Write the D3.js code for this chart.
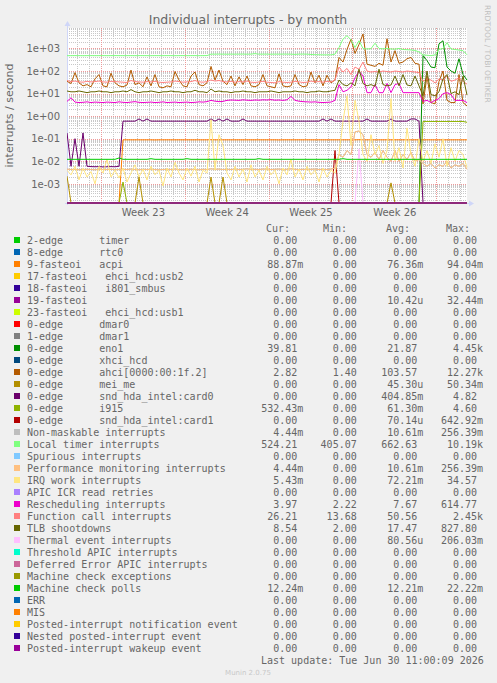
<!DOCTYPE html>
<html>
<head>
<meta charset="utf-8">
<script src="https://cdn.jsdelivr.net/npm/d3@7"></script>
<style>
  body { margin: 0; background: #f0f0f0; }
  svg { display: block; }
  text { font-family: "DejaVu Sans", sans-serif; fill: #666; }
  .mono { font-family: "DejaVu Sans Mono", monospace; font-size: 10px; white-space: pre; }
</style>
</head>
<body>
<div class="chart"></div>
<script>
// ======= MUNIN "Individual interrupts - by month" REDRAWN WITH D3 =======
// one sample every ~8h over the month window, values in interrupts / second

const weekLabels = ['Week 23', 'Week 24', 'Week 25', 'Week 26']
const yTickValues = [1e-3, 1e-2, 1e-1, 1, 10, 100, 1000]
const yTickLabels = ['1e-03', '1e-02', '1e-01', '1e+00', '1e+01', '1e+02', '1e+03']

const localTimer = [
  480, 478, 482, 480, 476, 480, 481, 479, 480, 482,
  478, 480, 483, 480, 479, 481, 480, 478, 482, 480,
  480, 477, 481, 480, 479, 482, 480, 478, 480, 481,
  479, 480, 482, 478, 480, 484, 560, 558, 562, 560,
  555, 561, 559, 560, 563, 557, 560, 590, 558, 560,
  561, 556, 560, 559, 562, 560, 558, 545, 560, 562,
  559, 540, 530, 525, 522, 520, 520, 560, 1100, 2600,
  3700, 2400, 1100, 2200, 1000, 950, 980, 1700, 1000, 960,
  1000, 950, 930, 1000, 900, 880, 860, 820, 700, 520,
  500, 480, 520, 900, 1000, 1800, 950, 900, 850, 800,
  524
]

const ahci = [
  35, 28, 85, 30, 22, 25, 20, 45, 70, 22,
  20, 80, 30, 22, 20, 24, 110, 25, 30, 20,
  55, 22, 70, 20, 18, 22, 20, 95, 40, 22,
  20, 60, 90, 25, 22, 30, 160, 40, 110, 35,
  25, 60, 22, 55, 25, 60, 22, 20, 25, 70,
  22, 20, 18, 75, 22, 20, 22, 70, 25, 20,
  22, 90, 30, 65, 22, 65, 30, 40, 400, 250,
  900, 2600, 600, 1500, 4400, 200, 180, 160, 220, 180,
  2700, 250, 800, 220, 250, 350, 400, 220, 200, 3.5,
  60, 4, 3.5, 35, 100, 5, 4, 4, 70, 4,
  2.82
]

const functionCall = [
  38, 34, 36, 33, 32, 35, 33, 34, 36, 33,
  32, 35, 34, 33, 32, 31, 38, 34, 33, 32,
  34, 33, 35, 32, 31, 32, 33, 36, 34, 32,
  33, 34, 38, 33, 32, 34, 40, 36, 38, 34,
  33, 35, 32, 34, 33, 36, 32, 31, 33, 35,
  32, 31, 30, 34, 32, 31, 32, 35, 33, 31,
  32, 36, 33, 34, 32, 35, 33, 40, 150, 90,
  130, 70, 150, 120, 250, 100, 90, 95, 90, 100,
  95, 90, 100, 95, 90, 100, 95, 90, 85, 35,
  45, 40, 30, 45, 40, 60, 35, 40, 50, 35,
  26.21
]

const tlbShootdowns = [
  13, 12, 12, 13, 12, 11, 12, 12, 13, 12,
  12, 11, 12, 12, 13, 12, 15, 12, 11, 12,
  12, 13, 12, 11, 12, 12, 13, 12, 12, 11,
  12, 12, 14, 12, 12, 11, 16, 12, 13, 12,
  12, 11, 12, 12, 13, 12, 12, 11, 12, 12,
  12, 13, 12, 11, 12, 12, 12, 13, 12, 12,
  11, 12, 12, 13, 12, 12, 13, 14, 40, 25,
  22, 30, 22, 120, 28, 22, 25, 21, 120, 25,
  22, 24, 60, 22, 70, 24, 22, 60, 22, 8,
  100, 9, 8, 12, 45, 70, 10, 12, 9, 60,
  8.54
]

const rescheduling = [
  4.5, 6.5, 4.2, 4.0, 4.1, 4.3, 4.0, 4.2, 4.1, 4.0,
  4.2, 4.1, 4.0, 4.3, 4.1, 4.0, 4.2, 4.4, 4.1, 4.0,
  4.1, 4.2, 4.0, 4.1, 4.3, 4.0, 4.1, 4.2, 4.0, 4.1,
  4.2, 4.0, 4.1, 4.3, 4.2, 4.4, 5.0, 4.6, 4.4, 4.5,
  5.0, 5.2, 5.1, 5.0, 5.3, 5.1, 5.0, 5.2, 5.1, 5.3,
  5.2, 5.4, 5.1, 5.2, 5.0, 5.3, 7.5, 5.0, 4.6, 4.4,
  4.3, 4.2, 4.3, 4.1, 4.0, 4.1, 4.2, 5.0, 25, 12,
  14, 20, 50, 100, 60, 11, 11, 25, 11, 11,
  28, 11, 25, 28, 11, 11, 11, 11, 11, 4.5,
  5, 4, 5, 6, 10, 11, 9, 5, 5, 5,
  3.97
]

const card0 = [
  0.18, 0.006, 0.1, 0.006, 0.18, 0.006, 0.0058, 0.0057, 0.0058, 0.0056,
  0.0057, 0.0058, 0.0057, 0.006, 0.6, 0.6, 0.6, 0.6, 0.75, 0.6,
  0.75, 0.6, 0.6, 0.6, 0.6, 0.6, 0.6, 0.6, 0.6, 0.6,
  0.6, 0.6, 0.6, 0.6, 0.6, 0.6, 0.75, 0.6, 0.75, 0.6,
  0.75, 0.6, 0.6, 0.6, 0.75, 0.6, 0.6, 0.6, 0.6, 0.6,
  0.6, 0.6, 0.6, 0.6, 0.6, 0.6, 0.6, 0.6, 0.6, 0.6,
  0.6, 0.6, 0.6, 0.6, 0.75, 0.6, 0.75, 0.6, 0.6, 0.6,
  0.6, 0.6, 0.6, 0.6, 0.6, 0.75, 0.6, 0.6, 0.6, 0.6,
  0.6, 0.75, 0.6, 0.6, 0.6, 0.6, 0.75, 0.75, 0.6, 0,
  0, 0, 0, 0, 0, 0, 0, 0, 0, 0,
  0
]

const i915 = [
  0, 0, 0, 0, 0, 0, 0, 0, 0, 0,
  0, 0, 0, 0, 0.0012, 0, 0, 0, 0, 0,
  0, 0, 0, 0, 0, 0, 0, 0, 0, 0,
  0, 0, 0, 0, 0, 0, 0, 0, 0, 0,
  0, 0, 0, 0, 0, 0, 0, 0, 0, 0,
  0, 0, 0, 0, 0, 0, 0, 0, 0, 0,
  0, 0, 0, 0, 0, 0, 0, 0, 0, 0,
  0, 0, 0, 0, 0, 0, 0, 0, 0, 0,
  0, 0, 0, 0, 0, 0, 0, 0, 0, 0.58,
  0.58, 0.58, 0.58, 0.58, 0.58, 0.58, 0.58, 0.58, 0.58, 0.58,
  0.532
]

const acpi = [
  0, 0, 0, 0, 0, 0, 0, 0, 0, 0,
  0, 0, 0, 0, 0.089, 0.089, 0.089, 0.089, 0.089, 0.089,
  0.089, 0.089, 0.088, 0.089, 0.089, 0.089, 0.089, 0.089, 0.089, 0.089,
  0.089, 0.089, 0.089, 0.089, 0.089, 0.089, 0.09, 0.089, 0.089, 0.089,
  0.089, 0.089, 0.089, 0.089, 0.089, 0.089, 0.089, 0.089, 0.089, 0.089,
  0.089, 0.089, 0.089, 0.088, 0.089, 0.089, 0.089, 0.089, 0.089, 0.089,
  0.089, 0.089, 0.089, 0.089, 0.089, 0.089, 0.089, 0.089, 0.089, 0.089,
  0.089, 0.089, 0.089, 0.09, 0.089, 0.089, 0.089, 0.089, 0.089, 0.089,
  0.089, 0.089, 0.089, 0.089, 0.089, 0.089, 0.089, 0.089, 0.089, 0.089,
  0.089, 0.089, 0.089, 0.089, 0.089, 0.089, 0.089, 0.089, 0.089, 0.089,
  0.0889
]

const machineCheckPolls = [
  0.0122, 0.0122, 0.0122, 0.0122, 0.0122, 0.0122, 0.0122, 0.0122, 0.0122, 0.0122,
  0.0122, 0.0122, 0.0122, 0.014, 0.0122, 0.0122, 0.0122, 0.0122, 0.0122, 0.0122,
  0.0122, 0.013, 0.0122, 0.0122, 0.0122, 0.0122, 0.0122, 0.0122, 0.0122, 0.0122,
  0.013, 0.0122, 0.0122, 0.0122, 0.0122, 0.0122, 0.0122, 0.0122, 0.0122, 0.0122,
  0.0122, 0.0122, 0.0122, 0.0122, 0.0122, 0.0122, 0.0122, 0.0122, 0.013, 0.0122,
  0.0122, 0.0122, 0.0122, 0.0122, 0.0122, 0.0122, 0.0122, 0.0122, 0.0122, 0.0122,
  0.0122, 0.0122, 0.0122, 0.0122, 0.0122, 0.0122, 0.0122, 0.0122, 0.0122, 0.013,
  0.0122, 0.0122, 0.0122, 0.0122, 0.0122, 0.0122, 0.0122, 0.0122, 0.0122, 0.0122,
  0.0122, 0.0122, 0.0122, 0.0122, 0.0122, 0.0122, 0.0122, 0.0122, 0.0122, 0.0122,
  0.0122, 0.0122, 0.0122, 0.0122, 0.0122, 0.0122, 0.0122, 0.0122, 0.0122, 0.0122,
  0.01224
]

const irqWork = [
  0.004, 0.0025, 0.006, 0.0015, 0.005, 0.002, 0.0035, 0.001, 0.006, 0.003,
  0.012, 0.002, 0.004, 0.0018, 0.005, 0.0012, 0.003, 0.007, 0.002, 0.0045,
  0.0015, 0.006, 0.0025, 0.004, 0.0008, 0.005, 0.002, 0.009, 0.003, 0.0015,
  0.005, 0.0022, 0.006, 0.0012, 0.004, 0.003, 0.7, 0.004, 0.15, 0.05,
  0.003, 0.0015, 0.006, 0.002, 0.0045, 0.0012, 0.007, 0.002, 0.004, 0.0015,
  0.006, 0.0025, 0.004, 0.001, 0.005, 0.0025, 0.012, 0.002, 0.0045, 0.0015,
  0.006, 0.0025, 0.004, 0.0012, 0.005, 0.002, 0.004, 0.003, 0.02, 0.6,
  8, 0.05, 5, 0.6, 0.02, 0.01, 0.15, 0.02, 0.05, 0.008,
  0.03, 6, 0.01, 0.04, 0.005, 0.3, 0.02, 0.006, 0.1, 0.01,
  0.03, 0.008, 0.06, 0.015, 0.1, 0.006, 0.04, 0.01, 0.03, 0.02,
  0.00543
]

// NMI and performance monitoring counters report the same numbers
const perfMonitoring = [
  0.0045, 0.0043, 0.0044, 0.0042, 0.0043, 0.0044, 0.0043, 0.0042, 0.0044, 0.0043,
  0.0043, 0.0044, 0.0042, 0.0043, 0.0044, 0.0043, 0.0045, 0.0043, 0.0042, 0.0044,
  0.0043, 0.0044, 0.0043, 0.0042, 0.0043, 0.0044, 0.0043, 0.0045, 0.0043, 0.0042,
  0.0043, 0.0044, 0.0043, 0.0042, 0.0044, 0.0043, 0.0046, 0.0044, 0.0045, 0.0043,
  0.0044, 0.0043, 0.0045, 0.0043, 0.0044, 0.0046, 0.0043, 0.0044, 0.0043, 0.0045,
  0.0044, 0.0043, 0.0044, 0.0045, 0.0043, 0.0044, 0.0046, 0.0044, 0.0043, 0.0044,
  0.0043, 0.0044, 0.0045, 0.0043, 0.0044, 0.0043, 0.0045, 0.005, 0.02, 0.015,
  0.03, 0.02, 0.2, 0.22, 0.15, 0.02, 0.015, 0.025, 0.012, 0.03,
  0.015, 0.01, 0.03, 0.01, 0.02, 0.012, 0.025, 0.01, 0.012, 0.008,
  0.006, 0.008, 0.005, 0.007, 0.006, 0.01, 0.005, 0.007, 0.006, 0.008,
  0.00444
]
const nmiCounts = perfMonitoring

const eno1 = [
  0, 0, 0, 0, 0, 0, 0, 0, 0, 0,
  0, 0, 0, 0, 0, 0, 0, 0, 0, 0,
  0, 0, 0, 0, 0, 0, 0, 0, 0, 0,
  0, 0, 0, 0, 0, 0, 0, 0, 0, 0,
  0, 0, 0, 0, 0, 0, 0, 0, 0, 0,
  0, 0, 0, 0, 0, 0, 0, 0, 0, 0,
  0, 0, 0, 0, 0, 0, 0, 0, 0, 0,
  0, 0, 0, 0, 0, 0, 0, 0, 0, 0,
  0, 0, 0, 0, 0, 0, 0, 0, 0, 480,
  290, 150, 140, 1600, 2200, 150, 100, 80, 350, 70,
  39.81
]

const meiMe = [
  0.0022, 0, 0, 0, 0, 0, 0, 0, 0, 0,
  0, 0, 0, 0, 0, 0, 0, 0, 0.002, 0,
  0, 0, 0, 0, 0, 0, 0, 0, 0, 0,
  0, 0, 0, 0, 0, 0, 0.002, 0, 0, 0.002,
  0, 0, 0, 0, 0, 0, 0, 0, 0, 0,
  0, 0, 0, 0, 0, 0, 0, 0, 0, 0,
  0, 0, 0, 0, 0, 0, 0, 0, 0, 0,
  0, 0, 0, 0, 0, 0, 0, 0, 0, 0,
  0, 0.0011, 0, 0, 0, 0, 0, 0, 0, 0,
  0, 0, 0, 0, 0, 0, 0, 0, 0, 0,
  0
]

const card1 = [
  0, 0, 0, 0, 0, 0, 0, 0, 0, 0,
  0, 0, 0, 0, 0, 0, 0, 0, 0, 0,
  0, 0, 0, 0, 0, 0, 0, 0, 0, 0,
  0, 0, 0, 0, 0, 0, 0, 0, 0, 0,
  0, 0, 0, 0, 0, 0, 0, 0, 0, 0,
  0, 0, 0, 0, 0, 0, 0, 0, 0, 0,
  0, 0, 0, 0, 0, 0, 0, 0.03, 0, 0,
  0, 0, 0, 0, 0, 0, 0, 0, 0, 0,
  0, 0, 0, 0, 0, 0, 0, 0, 0, 0,
  0, 0, 0, 0, 0, 0, 0, 0, 0, 0,
  0
]

const thermal = [
  0, 0, 0, 0, 0, 0, 0, 0, 0, 0,
  0, 0, 0, 0, 0, 0, 0, 0, 0, 0,
  0, 0, 0, 0, 0, 0, 0, 0, 0, 0,
  0, 0, 0, 0, 0, 0, 0, 0, 0, 0,
  0, 0, 0, 0, 0, 0, 0, 0, 0, 0,
  0, 0, 0, 0, 0, 0, 0, 0, 0, 0,
  0, 0, 0, 0, 0, 0, 0, 0, 0, 0,
  0, 0, 0, 0.035, 0, 0, 0, 0, 0, 0,
  0, 0, 0, 0, 0, 0, 0, 0, 0, 0,
  0, 0, 0, 0, 0, 0, 0, 0, 0, 0,
  0
]

// idle counters (never fired during the month)
const idle = [
  0, 0, 0, 0, 0, 0, 0, 0, 0, 0,
  0, 0, 0, 0, 0, 0, 0, 0, 0, 0,
  0, 0, 0, 0, 0, 0, 0, 0, 0, 0,
  0, 0, 0, 0, 0, 0, 0, 0, 0, 0,
  0, 0, 0, 0, 0, 0, 0, 0, 0, 0,
  0, 0, 0, 0, 0, 0, 0, 0, 0, 0,
  0, 0, 0, 0, 0, 0, 0, 0, 0, 0,
  0, 0, 0, 0, 0, 0, 0, 0, 0, 0,
  0, 0, 0, 0, 0, 0, 0, 0, 0, 0,
  0, 0, 0, 0, 0, 0, 0, 0, 0, 0,
  0
]

// legend, in drawing order
const legendNames = [
  '2-edge      timer', '8-edge      rtc0', '9-fasteoi   acpi',
  '17-fasteoi   ehci_hcd:usb2', '18-fasteoi   i801_smbus', '19-fasteoi',
  '23-fasteoi   ehci_hcd:usb1', '0-edge      dmar0', '1-edge      dmar1',
  '0-edge      eno1', '0-edge      xhci_hcd', '0-edge      ahci[0000:00:1f.2]',
  '0-edge      mei_me', '0-edge      snd_hda_intel:card0', '0-edge      i915',
  '0-edge      snd_hda_intel:card1', 'Non-maskable interrupts', 'Local timer interrupts',
  'Spurious interrupts', 'Performance monitoring interrupts', 'IRQ work interrupts',
  'APIC ICR read retries', 'Rescheduling interrupts', 'Function call interrupts',
  'TLB shootdowns', 'Thermal event interrupts', 'Threshold APIC interrupts',
  'Deferred Error APIC interrupts', 'Machine check exceptions', 'Machine check polls',
  'ERR', 'MIS', 'Posted-interrupt notification event',
  'Nested posted-interrupt event', 'Posted-interrupt wakeup event'
]
const legendColors = [
  '#00CC00', '#0066B3', '#FF8000', '#FFCC00', '#330099', '#990099', '#CCFF00',
  '#FF0000', '#808080', '#008F00', '#00487D', '#B35A00', '#B38F00', '#6B006B',
  '#8FB300', '#B30000', '#BEBEBE', '#80FF80', '#80C9FF', '#FFC080', '#FFE680',
  '#AA80FF', '#EE00CC', '#FF8080', '#666600', '#FFBFFF', '#00FFCC', '#CC6699',
  '#999900', '#00CC00', '#0066B3', '#FF8000', '#FFCC00', '#330099', '#990099'
]
const legendCur = [
  '0.00', '0.00', '88.87m', '0.00', '0.00', '0.00', '0.00', '0.00', '0.00', '39.81',
  '0.00', '2.82', '0.00', '0.00', '532.43m', '0.00', '4.44m', '524.21', '0.00', '4.44m',
  '5.43m', '0.00', '3.97', '26.21', '8.54', '0.00', '0.00', '0.00', '0.00', '12.24m',
  '0.00', '0.00', '0.00', '0.00', '0.00'
]
const legendMin = [
  '0.00', '0.00', '0.00', '0.00', '0.00', '0.00', '0.00', '0.00', '0.00', '0.00',
  '0.00', '1.40', '0.00', '0.00', '0.00', '0.00', '0.00', '405.07', '0.00', '0.00',
  '0.00', '0.00', '2.22', '13.68', '2.00', '0.00', '0.00', '0.00', '0.00', '0.00',
  '0.00', '0.00', '0.00', '0.00', '0.00'
]
const legendAvg = [
  '0.00', '0.00', '76.36m', '0.00', '0.00', '10.42u', '0.00', '0.00', '0.00', '21.87',
  '0.00', '103.57', '45.30u', '404.85m', '61.30m', '70.14u', '10.61m', '662.63', '0.00', '10.61m',
  '72.21m', '0.00', '7.67', '50.56', '17.47', '80.56u', '0.00', '0.00', '0.00', '12.21m',
  '0.00', '0.00', '0.00', '0.00', '0.00'
]
const legendMax = [
  '0.00', '0.00', '94.04m', '0.00', '0.00', '32.44m', '0.00', '0.00', '0.00', '4.45k',
  '0.00', '12.27k', '50.34m', '4.82', '4.60', '642.92m', '256.39m', '10.19k', '0.00', '256.39m',
  '34.57', '0.00', '614.77', '2.45k', '827.80', '206.03m', '0.00', '0.00', '0.00', '22.22m',
  '0.00', '0.00', '0.00', '0.00', '0.00'
]
const seriesValues = [
  idle, idle, acpi, idle, idle, idle, idle, idle, idle, eno1,
  idle, ahci, meiMe, card0, i915, card1, nmiCounts, localTimer, idle, perfMonitoring,
  irqWork, idle, rescheduling, functionCall, tlbShootdowns, thermal, idle, idle, idle, machineCheckPolls,
  idle, idle, idle, idle, idle
]

// ---------------------------------------------------------------------
const W = 497
const H = 683
const plot = { left: 67, top: 28, width: 400, height: 175 }
const plotBottom = plot.top + plot.height
const plotRight = plot.left + plot.width

// month window shown by the graph
const timeStart = new Date(Date.UTC(2026, 4, 29, 3, 50))
const timeEnd = new Date(Date.UTC(2026, 6, 1, 13, 44))
const sampleTime = i => new Date(+timeStart + i * (timeEnd - timeStart) / (localTimer.length - 1))

const svg = d3.select('.chart')
  .append('svg')
    .attr('width', W)
    .attr('height', H)

svg.append('rect')
  .attr('width', W)
  .attr('height', H)
  .attr('fill', '#f0f0f0')

svg.append('rect')
  .attr('x', plot.left)
  .attr('y', plot.top)
  .attr('width', plot.width)
  .attr('height', plot.height)
  .attr('fill', '#ffffff')

const xScale = d3.scaleUtc()
  .domain([timeStart, timeEnd])
  .range([plot.left, plotRight])

const yMin = Math.pow(10, -3.85)
const yScale = d3.scaleLog()
  .domain([yMin, Math.pow(10, 3.907)])
  .range([plotBottom, plot.top])

const crisp = v => Math.round(v) + 0.5

// ---- grid ----
const grid = svg.append('g')
const mondays = d3.utcMonday.range(timeStart, timeEnd)
const days = d3.utcDay.range(timeStart, timeEnd).filter(d => d.getUTCDay() !== 1)

grid.selectAll('.vminor').data(days).join('line')
  .attr('x1', d => crisp(xScale(d))).attr('x2', d => crisp(xScale(d)))
  .attr('y1', plot.top).attr('y2', plotBottom)
  .attr('stroke', '#c8c8c8').attr('stroke-dasharray', '1,1')

const minorY = []
for (let e = -4; e <= 3; e++) {
  for (let k = 2; k <= 9; k++) {
    const v = k * Math.pow(10, e)
    if (v > yScale.domain()[0] && v < yScale.domain()[1]) minorY.push(v)
  }
}
grid.selectAll('.hminor').data(minorY).join('line')
  .attr('x1', plot.left).attr('x2', plotRight)
  .attr('y1', d => crisp(yScale(d))).attr('y2', d => crisp(yScale(d)))
  .attr('stroke', '#c8c8c8').attr('stroke-dasharray', '1,1')

grid.selectAll('.vmajor').data(mondays).join('line')
  .attr('x1', d => crisp(xScale(d))).attr('x2', d => crisp(xScale(d)))
  .attr('y1', plot.top).attr('y2', plotBottom)
  .attr('stroke', '#ee9999').attr('stroke-dasharray', '1,1')

grid.selectAll('.hmajor').data(yTickValues).join('line')
  .attr('x1', plot.left).attr('x2', plotRight)
  .attr('y1', d => crisp(yScale(d))).attr('y2', d => crisp(yScale(d)))
  .attr('stroke', '#ee9999').attr('stroke-dasharray', '1,1')

// ---- axis lines (under the data, like rrdtool) ----
const axisColor = '#CFD6F8'
svg.append('line')
  .attr('x1', plot.left - 2).attr('x2', plotRight + 2)
  .attr('y1', plotBottom + 0.5).attr('y2', plotBottom + 0.5)
  .attr('stroke', axisColor)
svg.append('line')
  .attr('x1', plot.left + 0.5).attr('x2', plot.left + 0.5)
  .attr('y1', plotBottom + 2).attr('y2', plot.top - 3)
  .attr('stroke', axisColor)

// ---- series ----
svg.append('clipPath').attr('id', 'plotclip')
  .append('rect')
    .attr('x', plot.left).attr('y', plot.top)
    .attr('width', plot.width + 1).attr('height', plot.height + 1)

const line = d3.line()
  .x((d, i) => xScale(sampleTime(i)))
  .y(d => yScale(Math.max(d, yMin)))

svg.append('g')
  .attr('clip-path', 'url(#plotclip)')
  .selectAll('path')
  .data(seriesValues)
  .join('path')
    .attr('d', line)
    .attr('fill', 'none')
    .attr('stroke', (d, i) => legendColors[i])
    .attr('stroke-width', 1)

// arrows on the axes
svg.append('path')
  .attr('d', `M${plot.left + 0.5},${plot.top - 7} l-3,5 h6 z`)
  .attr('fill', axisColor)
svg.append('path')
  .attr('d', `M${plotRight + 7},${plotBottom + 0.5} l-5,-3 v6 z`)
  .attr('fill', axisColor)

// ---- axes labels ----
const yAxis = d3.axisLeft(yScale)
  .tickValues(yTickValues)
  .tickFormat((d, i) => yTickLabels[i])
  .tickSize(0)
  .tickPadding(7)
svg.append('g')
  .attr('transform', `translate(${plot.left}, 0)`)
  .call(yAxis)
  .call(g => g.select('.domain').remove())
  .attr('font-family', 'DejaVu Sans')
  .attr('font-size', 10)
  .attr('color', '#666')

const weekMids = mondays.slice(0, weekLabels.length).map(d => d3.utcHour.offset(d, 84))
const xAxis = d3.axisBottom(xScale)
  .tickValues(weekMids)
  .tickFormat((d, i) => weekLabels[i])
  .tickSize(0)
  .tickPadding(6)
svg.append('g')
  .attr('transform', `translate(0, ${plotBottom})`)
  .call(xAxis)
  .call(g => g.select('.domain').remove())
  .attr('font-family', 'DejaVu Sans')
  .attr('font-size', 10)
  .attr('color', '#666')

svg.append('text')
  .attr('x', 248).attr('y', 24)
  .attr('text-anchor', 'middle')
  .attr('font-size', 12.5)
  .text('Individual interrupts - by month')

svg.append('text')
  .attr('transform', `translate(13, ${(plot.top + plotBottom) / 2}) rotate(-90)`)
  .attr('text-anchor', 'middle')
  .attr('font-size', 11)
  .text('interrupts / second')

svg.append('text')
  .attr('transform', 'translate(484.5, 5) rotate(90)')
  .attr('font-size', 7.6)
  .style('fill', '#c0c0c0')
  .text('RRDTOOL / TOBI OETIKER')

// ---- legend table ----
const rowY = i => 240 + 12 * i
const fmt = s => {
  const unit = /[a-z]$/i.test(s) ? s.slice(-1) : ' '
  const num = unit === ' ' ? s : s.slice(0, -1)
  return num.padStart(6) + unit
}

const header = [['Cur:', 266], ['Min:', 323], ['Avg:', 386], ['Max:', 446]]
svg.selectAll('.hdr').data(header).join('text')
  .attr('class', 'mono')
  .attr('x', d => d[1]).attr('y', 231.5)
  .text(d => d[0])

const rows = svg.selectAll('.row').data(legendNames).join('g')
  .attr('transform', (d, i) => `translate(0, ${rowY(i)})`)

rows.append('rect')
  .attr('x', 14).attr('y', -3)
  .attr('width', 6).attr('height', 6)
  .attr('fill', (d, i) => legendColors[i])

rows.append('text')
  .attr('class', 'mono')
  .attr('xml:space', 'preserve')
  .attr('x', 27).attr('y', 3.5)
  .text(d => d)

const cols = [[legendCur, 261.2], [legendMin, 320.6], [legendAvg, 381.2], [legendMax, 441]]
cols.forEach(([vals, x]) => {
  rows.append('text')
    .attr('class', 'mono')
    .attr('xml:space', 'preserve')
    .attr('x', x).attr('y', 3.5)
    .text((d, i) => fmt(vals[i]))
})

svg.append('text')
  .attr('class', 'mono')
  .attr('xml:space', 'preserve')
  .attr('x', 261).attr('y', 663.5)
  .text('Last update: Tue Jun 30 11:00:09 2026')

svg.append('text')
  .attr('x', 248).attr('y', 675)
  .attr('text-anchor', 'middle')
  .attr('font-size', 7)
  .style('fill', '#c8c8c8')
  .text('Munin 2.0.75')
</script>
</body>
</html>
